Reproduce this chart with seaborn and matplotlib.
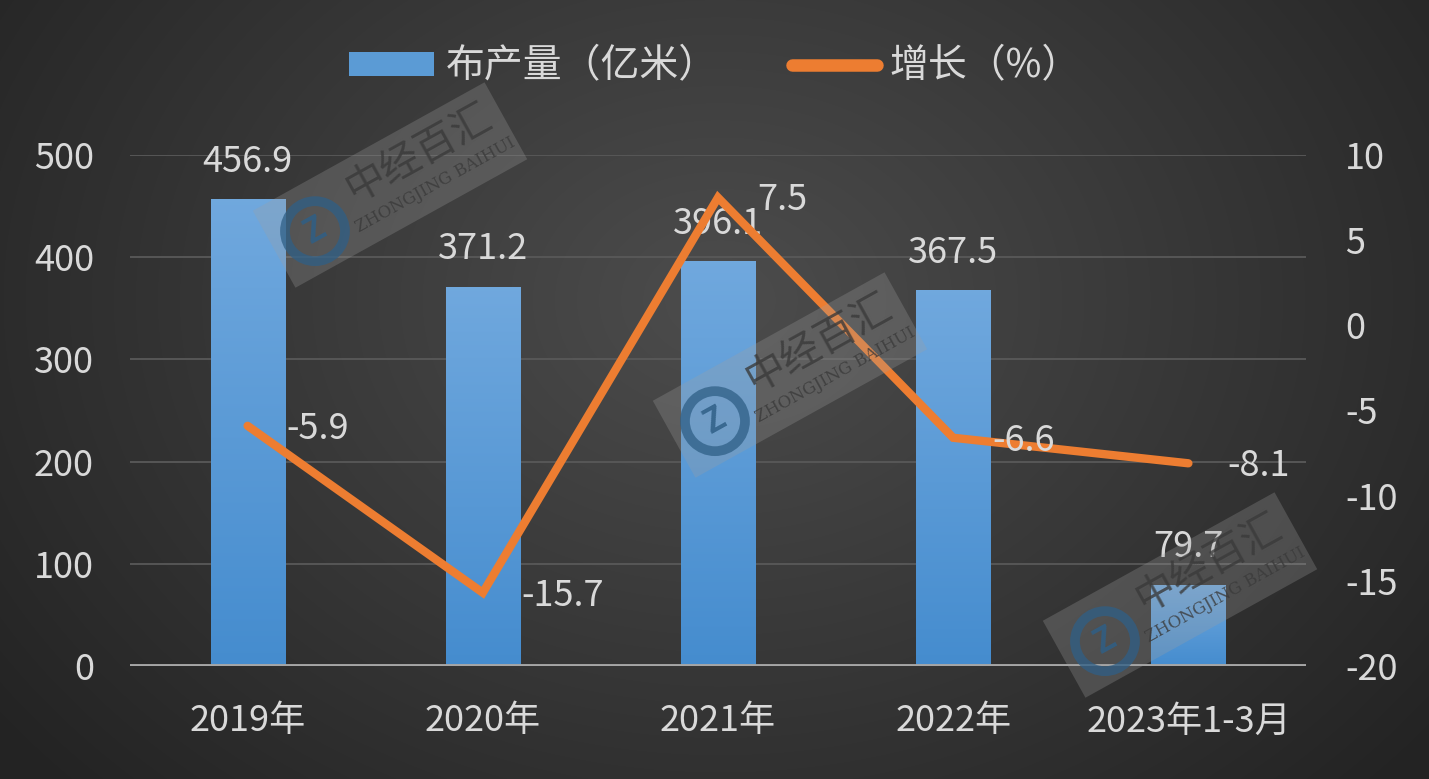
import numpy as np
import pandas as pd
import seaborn as sns
import matplotlib.pyplot as plt
from matplotlib.patches import Patch, Rectangle, Circle
from matplotlib.lines import Line2D

categories = ['2019年', '2020年', '2021年', '2022年', '2023年1-3月']
output = [456.9, 371.2, 396.1, 367.5, 79.7]
growth = [-5.9, -15.7, 7.5, -6.6, -8.1]
output_labels = ['456.9', '371.2', '396.1', '367.5', '79.7']
growth_labels = ['-5.9', '-15.7', '7.5', '-6.6', '-8.1']

df = pd.DataFrame({'cat': categories, 'output': output, 'growth': growth})

sns.set_theme(style='dark')
plt.rcParams['font.family'] = ['Noto Sans CJK SC', 'DejaVu Sans']
plt.rcParams['font.weight'] = 'light'
plt.rcParams['axes.unicode_minus'] = False
txt = '#d9d9d9'
fs = 26

W, H = 1429, 779
fig = plt.figure(figsize=(W / 100, H / 100), dpi=100)

# radial dark background
bg = fig.add_axes([0, 0, 1, 1], zorder=-10)
yy, xx = np.mgrid[0:H, 0:W]
r = np.sqrt(((xx - 720) / 900) ** 2 + ((yy - 300) / 700) ** 2)
shade = np.clip(0.30 - 0.16 * r, 0.14, 0.30)
bg.imshow(np.dstack([shade] * 3), aspect='auto', extent=[0, W, 0, H], origin='upper')
bg.set_axis_off()

ax = fig.add_axes([130 / W, 1 - 666 / H, 1176 / W, 511 / H])
ax.set_facecolor('none')
sns.barplot(data=df, x='cat', y='output', color='#5b9bd5', width=0.315,
            saturation=1, ax=ax, zorder=3)

# vertical gradient on each bar
grad = np.linspace(0, 1, 256).reshape(-1, 1)
top = np.array([0.44, 0.66, 0.87])
bot = np.array([0.27, 0.55, 0.81])
gimg = top + (bot - top) * grad[..., None]
for p in ax.patches:
    x0, y0 = p.get_x(), p.get_y()
    w, h = p.get_width(), p.get_height()
    im = ax.imshow(gimg, extent=[x0, x0 + w, y0, y0 + h], aspect='auto',
                   origin='upper', zorder=3)
    im.set_clip_path(p)
    p.set_alpha(0)

ax.set_xlim(-0.5, len(categories) - 0.5)
ax.set_ylim(0, 500)
ax.set_yticks(range(0, 501, 100))
ax.set_xlabel('')
ax.set_ylabel('')
ax.grid(axis='y', color='#595959', linewidth=1.3)
ax.grid(axis='x', visible=False)
ax.axhline(0, color='#a6a6a6', linewidth=2.8, zorder=4)
for s in ax.spines.values():
    s.set_visible(False)
ax.tick_params(axis='y', colors=txt, labelsize=fs, length=0, pad=26)
ax.tick_params(axis='x', colors=txt, labelsize=fs, length=0, pad=27)

for i, v in enumerate(output):
    ax.annotate(output_labels[i], (i, v), xytext=(0, 14), textcoords='offset points',
                ha='center', va='bottom', color=txt, fontsize=fs, zorder=6)

ax2 = ax.twinx()
ax2.set_position(ax.get_position())
sns.lineplot(x=np.arange(len(categories)), y=growth, color='#ed7d31', linewidth=6,
             ax=ax2, zorder=5, solid_capstyle='round', solid_joinstyle='miter')
ax2.set_ylim(-20, 10)
ax2.set_yticks(range(-20, 11, 5))
ax2.grid(False)
for s in ax2.spines.values():
    s.set_visible(False)
ax2.tick_params(axis='y', colors=txt, labelsize=fs, length=0, pad=28)
for lab in ax2.get_yticklabels():
    lab.set_ha('left')
for i, v in enumerate(growth):
    ax2.annotate(growth_labels[i], (i, v), xytext=(28, -2), textcoords='offset points',
                 ha='left', va='center', color=txt, fontsize=fs, zorder=6)

handles = [Patch(facecolor='#5b9bd5', edgecolor='none'),
           Line2D([0], [0], color='#ed7d31', linewidth=9, solid_capstyle='round')]
fig.legend(handles, ['布产量（亿米）', '增长（%）'], loc='upper center',
           bbox_to_anchor=(0.5, 0.985), ncol=2, frameon=False, fontsize=28,
           labelcolor=txt, handlelength=2.2, handleheight=0.6, columnspacing=1.9,
           handletextpad=0.3)

# watermarks
ov = fig.add_axes([0, 0, 1, 1], zorder=20)
ov.set_xlim(0, W)
ov.set_ylim(0, H)
ov.set_axis_off()
ang = 29
ux, uy = np.cos(np.radians(ang)), np.sin(np.radians(ang))
vx, vy = -uy, ux
for cx, cy in [(390, 185), (790, 375), (1180, 595)]:
    cy = H - cy
    L, T = 265, 88
    x0 = cx - (L / 2) * ux - (T / 2) * vx
    y0 = cy - (L / 2) * uy - (T / 2) * vy
    ov.add_patch(Rectangle((x0, y0), L, T, angle=ang, facecolor='#a0a0a0',
                           alpha=0.28, edgecolor='none'))
    lx, ly = cx - 88 * ux - 4 * vx, cy - 88 * uy - 4 * vy
    ov.add_patch(Circle((lx, ly), 30, facecolor='none', edgecolor='#2f5f86',
                        linewidth=7, alpha=0.75))
    ov.text(lx, ly, 'Z', ha='center', va='center', fontsize=24, color='#2f5f86',
            fontweight='bold', rotation=ang, alpha=0.85)
    ov.text(cx + 40 * ux + 14 * vx, cy + 40 * uy + 14 * vy, '中经百汇', ha='center',
            va='center', fontsize=29, color='#3a3a3a', rotation=ang,
            rotation_mode='anchor', alpha=0.8, fontweight='normal')
    ov.text(cx + 40 * ux - 22 * vx, cy + 40 * uy - 22 * vy, 'ZHONGJING BAIHUI',
            ha='center', va='center', fontsize=12, color='#3a3a3a', rotation=ang,
            rotation_mode='anchor', family='DejaVu Serif', alpha=0.8)

fig.savefig('out.png', dpi=100)
